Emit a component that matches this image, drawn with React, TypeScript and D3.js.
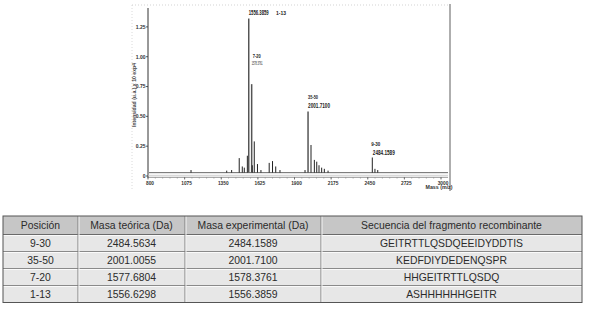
import React from 'react';
import * as d3 from 'd3';

// ---------- spectrum data ----------
const peakMz = [1123, 1391, 1428, 1485, 1508, 1523, 1546, 1556.39, 1578.38, 1583, 1598, 1622, 1648, 1710, 1735, 1759, 1791,
  1979, 2001.71, 2024, 2049, 2067, 2084, 2104, 2124, 2152, 2484.16, 2504, 2525];
const peakIntensity = [0.05, 0.045, 0.05, 0.15, 0.08, 0.07, 0.17, 1.32, 0.77, 0.09, 0.29, 0.1, 0.05, 0.11, 0.125, 0.08, 0.05,
  0.05, 0.54, 0.26, 0.135, 0.12, 0.09, 0.07, 0.06, 0.045, 0.155, 0.06, 0.05];
const baselineLevel = 0.028;
const xDomain = [800, 3000];
const xTickValues = [800, 1075, 1350, 1625, 1900, 2175, 2450, 2725, 3000];
const yTickValues = [0, 0.25, 0.5, 0.75, 1.0, 1.25];
const yTickLabels = ['0', '0.25', '0.50', '0.75', '1.00', '1.25'];
const yAxisTitle = 'Intensidad (u.a.) x 10 exp4';
const xAxisTitle = 'Mass (m/z)';

// annotations: fragment name, label mass
const annFragments = ['1-13', '7-20', '35-50', '9-30'];
const annMasses = ['1556.3859', '1578.3761', '2001.7100', '2484.1589'];
const annPeakMz = [1556.39, 1578.38, 2001.71, 2484.16];

// ---------- table data ----------
const tableHeaders = ['Posición', 'Masa teórica (Da)', 'Masa experimental (Da)', 'Secuencia del fragmento recombinante'];
const tablePositions = ['9-30', '35-50', '7-20', '1-13'];
const tableTheoretical = ['2484.5634', '2001.0055', '1577.6804', '1556.6298'];
const tableExperimental = ['2484.1589', '2001.7100', '1578.3761', '1556.3859'];
const tableSequences = ['GEITRTTLQSDQEEIDYDDTIS', 'KEDFDIYDEDENQSPR', 'HHGEITRTTLQSDQ', 'ASHHHHHHGEITR'];

function estWidth(s: string, size: number) {
  let w = 0;
  for (const ch of s) w += ch === '.' ? 0.278 : ch === '-' ? 0.333 : 0.556;
  return w * size;
}

function Squeezed(props: { x: number; y: number; text: string; size: number; len: number; bold?: boolean; fill?: string }) {
  const sx = props.len / estWidth(props.text, props.size);
  return (
    <text transform={`translate(${props.x},${props.y}) scale(${sx},1)`} fontSize={props.size}
      fontWeight={props.bold ? 700 : 400} fill={props.fill || '#222'}>{props.text}</text>
  );
}

export default function App() {
  const W = 590, H = 313;
  const x = d3.scaleLinear().domain(xDomain).range([148, 441]);
  const y = d3.scaleLinear().domain([0, 1.4]).range([176, 9]);
  const font = "'Liberation Sans', Arial, sans-serif";

  const minorTicks = d3.range(xDomain[0], 3250, 55);

  const annLayout = [
    { mass: { dx: 0, y: 15, size: 8, len: 20, bold: true }, frag: { x: 276, y: 15, size: 5, len: 10 } },
    { mass: { dx: 0, y: 65, size: 4.5, len: 11, bold: false }, frag: { dx: 1, y: 58, size: 5, len: 8 } },
    { mass: { dx: 0, y: 107.5, size: 8, len: 22, bold: true }, frag: { dx: 0, y: 99, size: 5, len: 10 } },
    { mass: { dx: 0.5, y: 154.5, size: 8, len: 22, bold: true }, frag: { dx: -1, y: 145.5, size: 5, len: 9 } },
  ];

  const colEdges = [3, 78, 185, 321, 582];
  const headTop = 216, headBottom = 234.5, rowH = 17;
  const rows = tablePositions.map((p, i) => [p, tableTheoretical[i], tableExperimental[i], tableSequences[i]]);
  const tableBottom = headBottom + rowH * rows.length;

  return (
    <svg width={W} height={H} style={{ position: 'absolute', left: 0, top: 0, background: '#fff' }} fontFamily={font}>
      <rect x={0} y={0} width={W} height={H} fill="#fff" />
      {/* chart frame */}
      <line x1={132} y1={5} x2={450} y2={5} stroke="#c8c8c8" strokeWidth={0.8} strokeDasharray="1,2" />
      <line x1={132} y1={5} x2={132} y2={190} stroke="#d0d0d0" strokeWidth={0.8} strokeDasharray="1,2" />
      <line x1={450} y1={4} x2={450} y2={191} stroke="#9a9a9a" strokeWidth={1.6} />

      {/* y axis */}
      <line x1={148} y1={8} x2={148} y2={178} stroke="#333" strokeWidth={1} />
      {yTickValues.map((v, i) => (
        <g key={'yt' + i}>
          <line x1={146} x2={148} y1={y(v)} y2={y(v)} stroke="#333" strokeWidth={0.8} />
          <text x={145.5} y={y(v) + 1.8} fontSize={5} fontWeight={700} textAnchor="end" fill="#333">{yTickLabels[i]}</text>
        </g>
      ))}
      <text transform={`translate(135.5,95) rotate(-90)`} fontSize={4.6} fontWeight={700} textAnchor="middle" fill="#444"
        textLength={64} lengthAdjust="spacingAndGlyphs">{yAxisTitle}</text>

      {/* x axis double line */}
      <line x1={148} x2={448} y1={175.3} y2={175.3} stroke="#c4c4c4" strokeWidth={0.8} />
      <line x1={148} x2={448} y1={177.3} y2={177.3} stroke="#777" strokeWidth={0.8} />
      {minorTicks.filter(v => x(v) <= 448).map((v, i) => (
        <line key={'mt' + i} x1={x(v)} x2={x(v)} y1={177.3} y2={178.6} stroke="#888" strokeWidth={0.6} />
      ))}
      {xTickValues.map((v, i) => (
        <g key={'xt' + i}>
          <line x1={x(v)} x2={x(v)} y1={177.3} y2={179.5} stroke="#555" strokeWidth={0.8} />
          <text x={x(v) + 2} y={184.5} fontSize={4.8} fontWeight={700} textAnchor="middle" fill="#333">{v}</text>
        </g>
      ))}
      <text x={439} y={188.5} fontSize={4.8} fontWeight={700} textAnchor="middle" fill="#333" textLength={27} lengthAdjust="spacingAndGlyphs">{xAxisTitle}</text>

      {/* baseline trace */}
      <line x1={x(xDomain[0]) + 1} x2={448} y1={y(baselineLevel)} y2={y(baselineLevel)} stroke="#555" strokeWidth={0.9} />

      {/* peaks */}
      {peakMz.map((m, i) => {
        const big = peakIntensity[i] > 0.5;
        return (
          <line key={'pk' + i} x1={x(m)} x2={x(m)} y1={y(baselineLevel)} y2={y(peakIntensity[i])}
            stroke={big ? '#555' : '#222'} strokeWidth={big ? 1.5 : 1} />
        );
      })}

      {/* annotations */}
      {annFragments.map((f, i) => {
        const L: any = annLayout[i];
        const px = x(annPeakMz[i]);
        const fx = L.frag.x !== undefined ? L.frag.x : px + L.frag.dx;
        return (
          <g key={'an' + i}>
            <Squeezed x={px + L.mass.dx} y={L.mass.y} text={annMasses[i]} size={L.mass.size} len={L.mass.len} bold={L.mass.bold} />
            <Squeezed x={fx} y={L.frag.y} text={f} size={L.frag.size} len={L.frag.len} bold />
          </g>
        );
      })}

      {/* table */}
      <rect x={colEdges[0]} y={headTop} width={colEdges[4] - colEdges[0]} height={headBottom - headTop} fill="#c6c6c6" />
      <rect x={colEdges[0]} y={headBottom} width={colEdges[4] - colEdges[0]} height={tableBottom - headBottom} fill="#e7e7e7" />
      {tableHeaders.map((h, c) => (
        <text key={'th' + c} x={(colEdges[c] + colEdges[c + 1]) / 2} y={(headTop + headBottom) / 2 + 3.7}
          fontSize={10.4} textAnchor="middle" fill="#2b2b2b">{h}</text>
      ))}
      {rows.map((r, ri) => (
        <g key={'tr' + ri}>
          {r.map((cell, c) => (
            <text key={c} x={(colEdges[c] + colEdges[c + 1]) / 2} y={headBottom + rowH * ri + rowH / 2 + 3.7}
              fontSize={10.4} textAnchor="middle" fill="#2b2b2b">{cell}</text>
          ))}
          <line x1={colEdges[0]} x2={colEdges[4]} y1={headBottom + rowH * (ri + 1)} y2={headBottom + rowH * (ri + 1)}
            stroke="#8a8a8a" strokeWidth={1} />
          <line x1={colEdges[0]} x2={colEdges[4]} y1={headBottom + rowH * ri + 1} y2={headBottom + rowH * ri + 1}
            stroke="#fafafa" strokeWidth={1} />
        </g>
      ))}
      <line x1={colEdges[0]} x2={colEdges[4]} y1={headBottom} y2={headBottom} stroke="#6a6a6a" strokeWidth={1} />
      {colEdges.slice(1, 4).map((cx, i) => (
        <g key={'cv' + i}>
          <line x1={cx} x2={cx} y1={headTop} y2={tableBottom} stroke="#7a7a7a" strokeWidth={1} />
          <line x1={cx + 1} x2={cx + 1} y1={headTop} y2={tableBottom} stroke="#f4f4f4" strokeWidth={1} />
        </g>
      ))}
      <rect x={colEdges[0]} y={headTop} width={colEdges[4] - colEdges[0]} height={tableBottom - headTop}
        fill="none" stroke="#555" strokeWidth={1} />
    </svg>
  );
}
